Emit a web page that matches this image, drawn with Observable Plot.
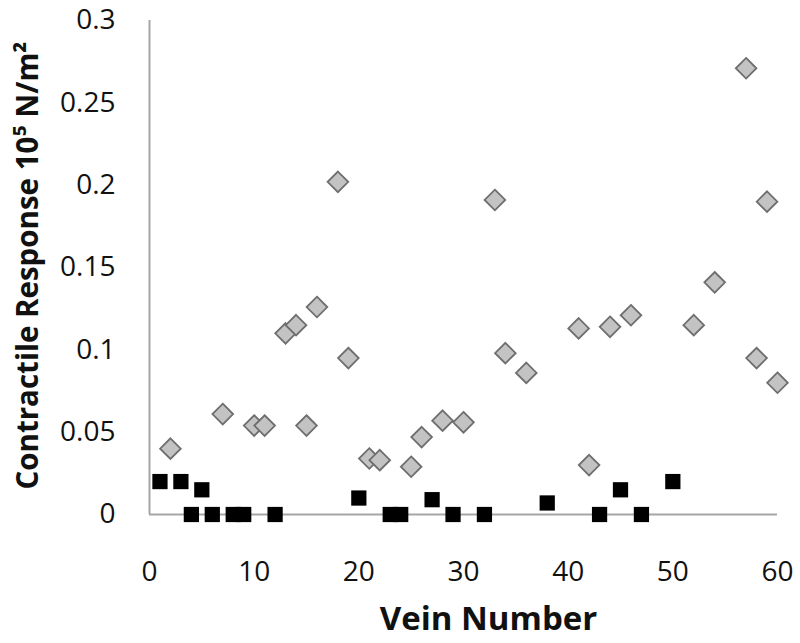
<!DOCTYPE html>
<html>
<head>
<meta charset="utf-8">
<script src="https://cdn.jsdelivr.net/npm/d3@7"></script>
<script src="https://cdn.jsdelivr.net/npm/@observablehq/plot@0.6"></script>
<style>
  html, body { margin: 0; padding: 0; background: #fff; }
  svg { font-family: "Open Sans", Lato, sans-serif; }
</style>
</head>
<body>
<div id="chart"></div>
<script>
// Gray diamonds series
const diamondVein = [2, 7, 10, 11, 13, 14, 15, 16, 18, 19, 21, 22, 25, 26, 28, 30, 33, 34, 36, 41, 42, 44, 46, 52, 54, 57, 58, 59, 60];
const diamondValue = [0.040, 0.061, 0.054, 0.054, 0.110, 0.115, 0.054, 0.126, 0.202, 0.095, 0.034, 0.033, 0.029, 0.047, 0.057, 0.056, 0.191, 0.098, 0.086, 0.113, 0.030, 0.114, 0.121, 0.115, 0.141, 0.271, 0.095, 0.190, 0.080];
// Black squares series
const squareVein = [1, 3, 4, 5, 6, 8, 9, 12, 20, 23, 24, 27, 29, 32, 38, 43, 45, 47, 50];
const squareValue = [0.020, 0.020, 0, 0.015, 0, 0, 0, 0, 0.010, 0, 0, 0.009, 0, 0, 0.007, 0, 0.015, 0, 0.020];
// Axis ticks and labels
const xTicks = [0, 10, 20, 30, 40, 50, 60];
const yTicks = [0, 0.05, 0.1, 0.15, 0.2, 0.25, 0.3];
const xLabel = "Vein Number";
const yLabel = "Contractile Response 10\u2075 N/m\u00B2";

const diamonds = diamondVein.map((v, i) => ({vein: v, value: diamondValue[i]}));
const squares = squareVein.map((v, i) => ({vein: v, value: squareValue[i]}));

const chart = Plot.plot({
  width: 800,
  height: 643,
  marginLeft: 149,
  marginRight: 23,
  marginTop: 20,
  marginBottom: 129,
  style: {fontFamily: "'Open Sans', Lato, sans-serif", background: "#fff"},
  x: {domain: [0, 60]},
  y: {domain: [0, 0.3]},
  marks: [
    Plot.ruleY([0], {stroke: "#a6a6a6", strokeWidth: 2}),
    Plot.ruleX([0], {stroke: "#a6a6a6", strokeWidth: 2}),
    Plot.axisX({ticks: xTicks, tickSize: 0, tickPadding: 47, fontSize: 28, fill: "#111", label: null, tickFormat: d => String(d)}),
    Plot.axisY({ticks: yTicks, tickSize: 0, tickPadding: 34, fontSize: 28, fill: "#111", label: null, tickFormat: d => String(d)}),
    Plot.dot(diamonds, {x: "vein", y: "value", symbol: "diamond2", r: 9.3, fill: "#c3c3c3", stroke: "#6e6e6e", strokeWidth: 1.8}),
    Plot.dot(squares, {x: "vein", y: "value", symbol: "square", r: 8.6, fill: "#000", stroke: "none"}),
    Plot.text([xLabel], {frameAnchor: "bottom", textAnchor: "middle", dy: 115, dx: 25, fontSize: 33, fontWeight: "bold", fill: "#111", text: d => d}),
    Plot.text([yLabel], {frameAnchor: "left", textAnchor: "middle", dx: -121, dy: -2, rotate: -90, fontSize: 29.5, fontWeight: "bold", fill: "#111", text: d => d})
  ]
});
document.getElementById("chart").appendChild(chart);
</script>
</body>
</html>
